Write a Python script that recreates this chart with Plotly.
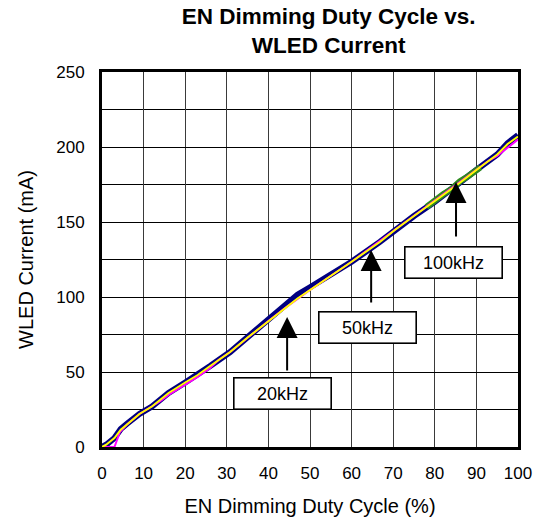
import plotly.graph_objects as go

# ---- data ----
duty = [0, 1, 3, 4.5, 6, 9, 12, 16, 20, 23, 26, 30.8, 35, 40, 44, 47, 50, 55, 60, 66.8, 70.4, 75, 80, 85, 90, 95, 97.5, 100]
i_50k = [0, 1.5, 6, 11.5, 15, 22, 27, 36, 43, 48, 54, 63.3, 73, 84, 92.7, 99, 104.7, 114, 123.5, 136.7, 144.7, 154, 164, 174, 184.7, 195, 202, 207]
i_20k = [0, 1.5, 6, 12, 15.5, 22, 27, 36, 43, 48, 54, 63.3, 73, 84.5, 95, 101.5, 106.5, 114.5, 123.5, 136.7, 144.7, 154, 163.5, 173.5, 184.7, 195, 202.5, 208]
duty_100k = [78, 80, 82, 84, 85, 86, 88, 90, 91]
i_100k = [160, 164.5, 168.5, 172, 175, 177, 180.5, 184.7, 186.5]
duty_m = [0, 3, 4.3, 6, 9, 12, 14, 16, 20, 23, 26, 28, 30.8, 35, 40, 44, 50, 60, 70.4, 80, 90, 93, 95, 97.5, 100]
i_m = [0, 0, 10, 15, 22, 27, 30.5, 34.7, 41.7, 46.7, 52.7, 58, 63.3, 73, 84, 92.7, 104.7, 123.5, 144.7, 164, 184.7, 191, 194, 199.5, 205]

labels = ["20kHz", "50kHz", "100kHz"]
# label box centres, arrow bases and arrow tips (duty %, mA)
box_xy = [(43.3, 35.7), (63.8, 80.0), (84.5, 123.0)]
arrow_base = [(44.5, 50.0), (64.7, 95.3), (85.1, 139.3)]
arrow_tip = [(44.5, 86.7), (64.7, 131.3), (85.1, 176.7)]

FONT = "Arial, Liberation Sans, sans-serif"

fig = go.Figure()
fig.add_trace(go.Scatter(x=duty, y=i_20k, mode="lines", line=dict(color="#000080", width=6), name="20kHz"))
fig.add_trace(go.Scatter(x=duty_100k, y=i_100k, mode="lines", line=dict(color="#2E8B1E", width=6), name="100kHz"))
fig.add_trace(go.Scatter(x=duty_m, y=i_m, mode="lines", line=dict(color="#FF00FF", width=2), name="other"))
fig.add_trace(go.Scatter(x=duty, y=i_50k, mode="lines", line=dict(color="#FFFF00", width=2), name="50kHz"))

for lab, (bx, by), (sx, sy), (tx, ty) in zip(labels, box_xy, arrow_base, arrow_tip):
    fig.add_annotation(
        x=bx, y=by, xref="x", yref="y", text=lab, showarrow=False,
        font=dict(family=FONT, size=18, color="black"),
        bgcolor="white", bordercolor="black", borderwidth=1.6, borderpad=4,
        width=88, height=22,
    )
    fig.add_annotation(
        x=tx, y=ty, ax=sx, ay=sy, xref="x", yref="y", axref="x", ayref="y",
        text="", showarrow=True, arrowhead=2, arrowsize=2.1, arrowwidth=2,
        arrowcolor="black",
    )

fig.update_layout(
    width=545, height=523,
    margin=dict(l=102, r=27, t=72, b=76, autoexpand=False),
    paper_bgcolor="white", plot_bgcolor="white",
    showlegend=False,
    title=dict(text="<b>EN Dimming Duty Cycle vs.<br>WLED Current</b>",
               x=297 / 545, xanchor="center", xref="paper", yref="container",
               y=1 - 23.5 / 523, yanchor="middle",
               font=dict(family=FONT, size=22.5, color="black")),
    font=dict(family=FONT, size=17, color="black"),
)
fig.update_xaxes(range=[0, 100], tick0=0, dtick=10, showgrid=True, gridcolor="#3a3a3a", gridwidth=1,
                 showline=True, linecolor="black", linewidth=3, mirror=True, ticks="",
                 zeroline=False, automargin=False, ticklabelstandoff=9,
                 tickfont=dict(family=FONT, size=17),
                 title=dict(text="EN Dimming Duty Cycle (%)", font=dict(family=FONT, size=20), standoff=17))
fig.update_yaxes(range=[0, 250], tick0=0, dtick=50, showgrid=True, gridcolor="black", gridwidth=1,
                 minor=dict(dtick=25, showgrid=True, gridcolor="black", gridwidth=1),
                 showline=True, linecolor="black", linewidth=3, mirror=True, ticks="",
                 zeroline=False, automargin=False, ticklabelstandoff=11,
                 tickfont=dict(family=FONT, size=17),
                 title=dict(text="WLED Current (mA)", font=dict(family=FONT, size=20), standoff=18))

fig.write_html("out.html",
               config={"displayModeBar": False, "staticPlot": True},
               post_script="document.body.style.margin='0px';document.body.style.overflow='hidden';")
